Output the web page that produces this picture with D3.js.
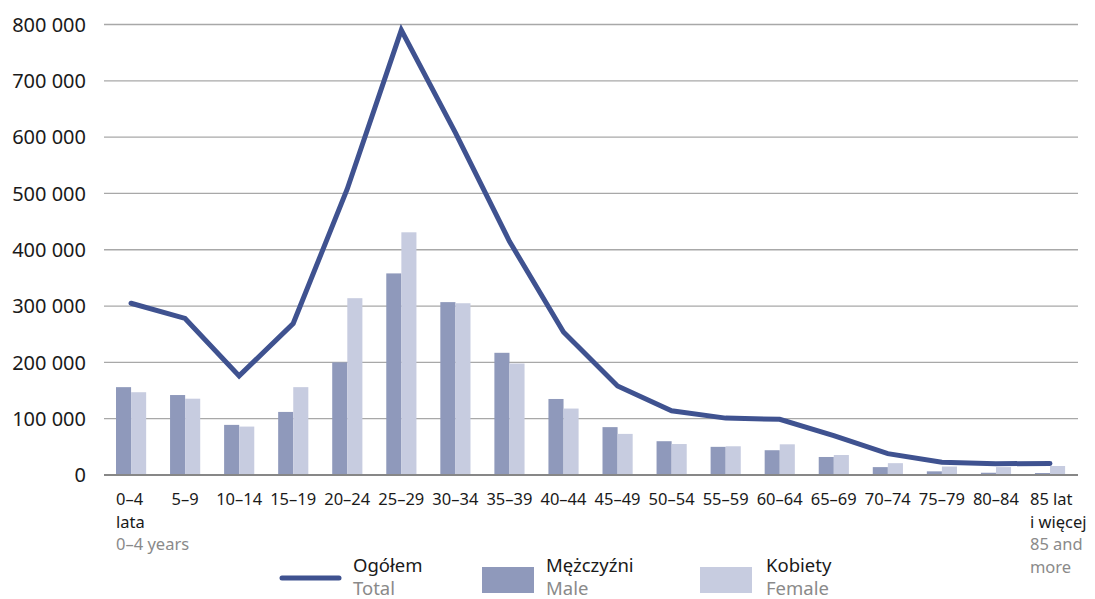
<!DOCTYPE html>
<html lang="pl">
<head>
<meta charset="utf-8">
<script src="https://cdn.jsdelivr.net/npm/d3@7"></script>
<style>
  html, body { margin: 0; padding: 0; background: #ffffff; }
  svg { display: block; font-family: "Noto Sans", sans-serif; }
</style>
</head>
<body>
<svg id="chart" width="1095" height="599"></svg>
<script>
// Age groups (Polish label lines, English label lines)
const ageGroups = ["0–4", "5–9", "10–14", "15–19", "20–24", "25–29", "30–34", "35–39", "40–44",
  "45–49", "50–54", "55–59", "60–64", "65–69", "70–74", "75–79", "80–84", "85+"];
const labelLinesPl = [["0–4", "lata"], ["5–9"], ["10–14"], ["15–19"], ["20–24"], ["25–29"], ["30–34"],
  ["35–39"], ["40–44"], ["45–49"], ["50–54"], ["55–59"], ["60–64"], ["65–69"], ["70–74"],
  ["75–79"], ["80–84"], ["85 lat", "i więcej"]];
const labelLinesEn = [["0–4 years"], [], [], [], [], [], [], [], [], [], [], [], [], [], [], [], [], ["85 and", "more"]];

// Population counts
const totalValues = [305000, 278000, 176000, 269000, 508000, 790000, 608000, 415000, 254000,
  158000, 114000, 101000, 99000, 70000, 38000, 22500, 20000, 20500];
const maleValues = [156000, 142000, 89000, 112000, 200000, 358000, 307000, 217000, 135000,
  85000, 60000, 50000, 44000, 32000, 14000, 6500, 4000, 3500];
const femaleValues = [147000, 135500, 86000, 156000, 314000, 431000, 305000, 198000, 118000,
  73000, 55000, 51000, 54500, 35500, 21000, 15000, 14000, 16000];

const yTicks = [0, 100000, 200000, 300000, 400000, 500000, 600000, 700000, 800000];

const legendItems = [
  { key: "total", pl: "Ogółem", en: "Total" },
  { key: "male", pl: "Mężczyźni", en: "Male" },
  { key: "female", pl: "Kobiety", en: "Female" }
];

const colors = { total: "#3f5290", male: "#8f99bb", female: "#c7cce0" };
const textDark = "#1a1a1a", textGrey = "#8a8a8a";

const svg = d3.select("#chart");

const x = d3.scaleBand().domain(ageGroups).range([104, 1077]).padding(0);
const sub = d3.scaleBand().domain(["male", "female"])
  .range([x.bandwidth() * 0.222, x.bandwidth() * 0.78]).padding(0);
const y = d3.scaleLinear().domain([0, 800000]).range([475, 24.5]);

const fmt = d3.formatLocale({ decimal: ",", thousands: " ", grouping: [3] }).format(",d");

// Gridlines
svg.append("g").selectAll("line")
  .data(yTicks.filter(d => d > 0))
  .join("line")
  .attr("x1", 104).attr("x2", 1078)
  .attr("y1", d => y(d)).attr("y2", d => y(d))
  .attr("stroke", "#a8a8a8").attr("stroke-width", 1.3);

// Y-axis labels
const yAxis = d3.axisLeft(y).tickValues(yTicks).tickFormat(fmt).tickSize(0).tickPadding(0);
svg.append("g")
  .attr("transform", "translate(86,0)")
  .call(yAxis)
  .call(g => g.select(".domain").remove())
  .call(g => g.selectAll("text")
    .attr("font-size", 20).attr("fill", textDark).attr("font-family", "\"Noto Sans\", sans-serif")
    .attr("dy", "0.34em"));

// Bars
const groups = svg.append("g").selectAll("g")
  .data(ageGroups.map((g, i) => ({ g, male: maleValues[i], female: femaleValues[i] })))
  .join("g")
  .attr("transform", d => `translate(${x(d.g)},0)`);

groups.selectAll("rect")
  .data(d => [{ k: "male", v: d.male }, { k: "female", v: d.female }])
  .join("rect")
  .attr("x", d => sub(d.k))
  .attr("width", sub.bandwidth())
  .attr("y", d => y(d.v))
  .attr("height", d => y(0) - y(d.v))
  .attr("fill", d => colors[d.k]);

// Baseline
svg.append("line")
  .attr("x1", 104).attr("x2", 1078)
  .attr("y1", y(0)).attr("y2", y(0))
  .attr("stroke", "#878787").attr("stroke-width", 2);

// Total line
const line = d3.line()
  .x((d, i) => x(ageGroups[i]) + x.bandwidth() / 2)
  .y(d => y(d));
svg.append("path")
  .datum(totalValues)
  .attr("d", line)
  .attr("fill", "none")
  .attr("stroke", colors.total)
  .attr("stroke-width", 5)
  .attr("stroke-linejoin", "miter")
  .attr("stroke-linecap", "round");

// X-axis labels
const xl = svg.append("g");
ageGroups.forEach((g, i) => {
  const pl = labelLinesPl[i], en = labelLinesEn[i];
  const multi = pl.length > 1 || en.length > 0;
  const cx = x(g) + x.bandwidth() / 2;
  const lx = multi ? x(g) + sub("male") - (i === ageGroups.length - 1 ? 5 : 0) : cx;
  const t = xl.append("text")
    .attr("font-size", 16.5)
    .attr("text-anchor", multi ? "start" : "middle")
    .attr("x", lx)
    .attr("y", 505);
  pl.forEach((s, j) => {
    t.append("tspan").attr("x", lx).attr("dy", j === 0 ? 0 : 22.5)
      .attr("fill", textDark).text(s);
  });
  en.forEach((s) => {
    t.append("tspan").attr("x", lx).attr("dy", 22.5)
      .attr("fill", textGrey).text(s);
  });
});

// Legend
const legendX = { total: 282, male: 482, female: 700 };
const legendTextX = { total: 353, male: 546, female: 766 };
legendItems.forEach(item => {
  if (item.key === "total") {
    svg.append("line")
      .attr("x1", legendX.total).attr("x2", 339)
      .attr("y1", 578).attr("y2", 578)
      .attr("stroke", colors.total).attr("stroke-width", 5).attr("stroke-linecap", "round");
  } else {
    svg.append("rect")
      .attr("x", legendX[item.key]).attr("y", 567)
      .attr("width", 52).attr("height", 26)
      .attr("fill", colors[item.key]);
  }
  svg.append("text").attr("x", legendTextX[item.key]).attr("y", 572)
    .attr("font-size", 18.5).attr("fill", textDark).text(item.pl);
  svg.append("text").attr("x", legendTextX[item.key]).attr("y", 595)
    .attr("font-size", 18.5).attr("fill", textGrey).text(item.en);
});
</script>
</body>
</html>
